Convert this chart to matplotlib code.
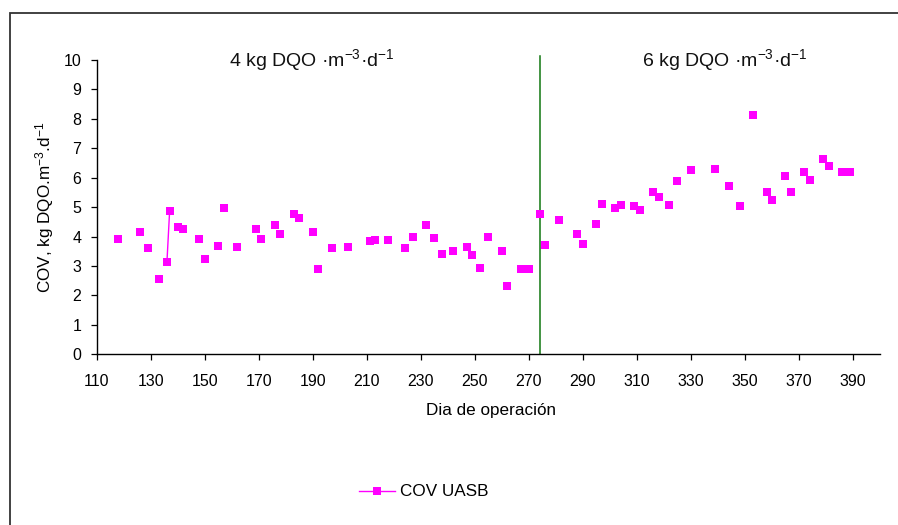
import matplotlib
matplotlib.use("Agg")
import matplotlib.pyplot as plt
from matplotlib.patches import Rectangle
from matplotlib.lines import Line2D

# Volumetric organic load of the UASB reactor per operating day
days = [118, 126, 129, 133, 136, 137, 140, 142, 148, 150, 155, 157, 162, 169,
        171, 176, 178, 183, 185, 190, 192, 197, 203, 211, 213, 218, 224, 227,
        232, 235, 238, 242, 247, 249, 252, 255, 260, 262, 267, 270, 274, 276,
        281, 288, 290, 295, 297, 302, 304, 309, 311, 316, 318, 322, 325, 330,
        339, 344, 348, 353, 358, 360, 365, 367, 372, 374, 379, 381, 386, 389]
cov = [3.93, 4.17, 3.60, 2.56, 3.13, 4.87, 4.31, 4.26, 3.93, 3.23, 3.69, 4.97,
       3.65, 4.26, 3.93, 4.40, 4.08, 4.78, 4.64, 4.17, 2.90, 3.60, 3.65, 3.84,
       3.88, 3.89, 3.60, 3.99, 4.40, 3.94, 3.42, 3.51, 3.65, 3.36, 2.94, 3.99,
       3.51, 2.33, 2.90, 2.90, 4.78, 3.70, 4.55, 4.08, 3.76, 4.42, 5.12, 4.98,
       5.07, 5.03, 4.89, 5.50, 5.36, 5.07, 5.88, 6.25, 6.30, 5.73, 5.03, 8.13,
       5.50, 5.25, 6.06, 5.50, 6.20, 5.92, 6.62, 6.39, 6.19, 6.19]
# consecutive records joined by a line segment
linked_days = [136, 137]

load_change_day = 274
phase_labels = ["4 kg DQO ·m$^{-3}$·d$^{-1}$", "6 kg DQO ·m$^{-3}$·d$^{-1}$"]
phase_label_days = [189.5, 342.5]
x_ticks = list(range(110, 391, 20))
y_ticks = list(range(0, 11))

plt.rcParams["font.family"] = ["Liberation Sans", "DejaVu Sans"]
plt.rcParams["mathtext.default"] = "regular"

W, H = 898, 525
fig = plt.figure(figsize=(W / 100, H / 100), dpi=100)

# outer chart frame
fig.patches.append(Rectangle((10 / W, -0.1), 1.2, 1 - 13 / H + 0.1,
                             transform=fig.transFigure, fill=False,
                             edgecolor="#333333", linewidth=1.3))

ax = fig.add_axes([96.7 / W, 1 - 354.3 / H, (880 - 96.7) / W, 294.3 / H])
ax.set_xlim(110, 400)
ax.set_ylim(0, 10)
ax.set_xticks(x_ticks)
ax.set_yticks(y_ticks)
for s in ("top", "right"):
    ax.spines[s].set_visible(False)
for s in ("left", "bottom"):
    ax.spines[s].set_linewidth(1.0)
ax.tick_params(axis="x", direction="out", length=4, width=0.9, pad=10,
               labelsize=11.5)
ax.tick_params(axis="y", direction="out", length=4, width=0.9, pad=7,
               labelsize=11.5)

# phase change marker
ax.plot([load_change_day, load_change_day], [0, 10.14], color="#117711",
        linewidth=1.1, clip_on=False, zorder=2)

ax.plot(days, cov, linestyle="none", marker="s", markersize=5.4,
        color="#ff00ff", markeredgewidth=0, zorder=3)
link_idx = [days.index(d) for d in linked_days]
ax.plot([days[i] for i in link_idx], [cov[i] for i in link_idx],
        color="#ff00ff", linewidth=1.0, zorder=3)

for label, d in zip(phase_labels, phase_label_days):
    ax.text(d, 10.0, label, ha="center", va="center", fontsize=14,
            color="#111111")

fig.text(45 / W, 1 - 207 / H, "COV, kg DQO.m$^{-3}$.d$^{-1}$", rotation=90,
         ha="center", va="center", fontsize=12.3)
fig.text(491 / W, 1 - 411 / H, "Dia de operación", ha="center", va="center",
         fontsize=12.3)

handle = Line2D([], [], color="#ff00ff", marker="s", markersize=5.4,
                markeredgewidth=0, linewidth=1.0)
fig.legend([handle], ["COV UASB"], loc="center left",
           bbox_to_anchor=(344 / W, 1 - 492 / H), frameon=False,
           fontsize=12.3, handlelength=2.1, handletextpad=0.25)

fig.savefig("out.png", dpi=100)
